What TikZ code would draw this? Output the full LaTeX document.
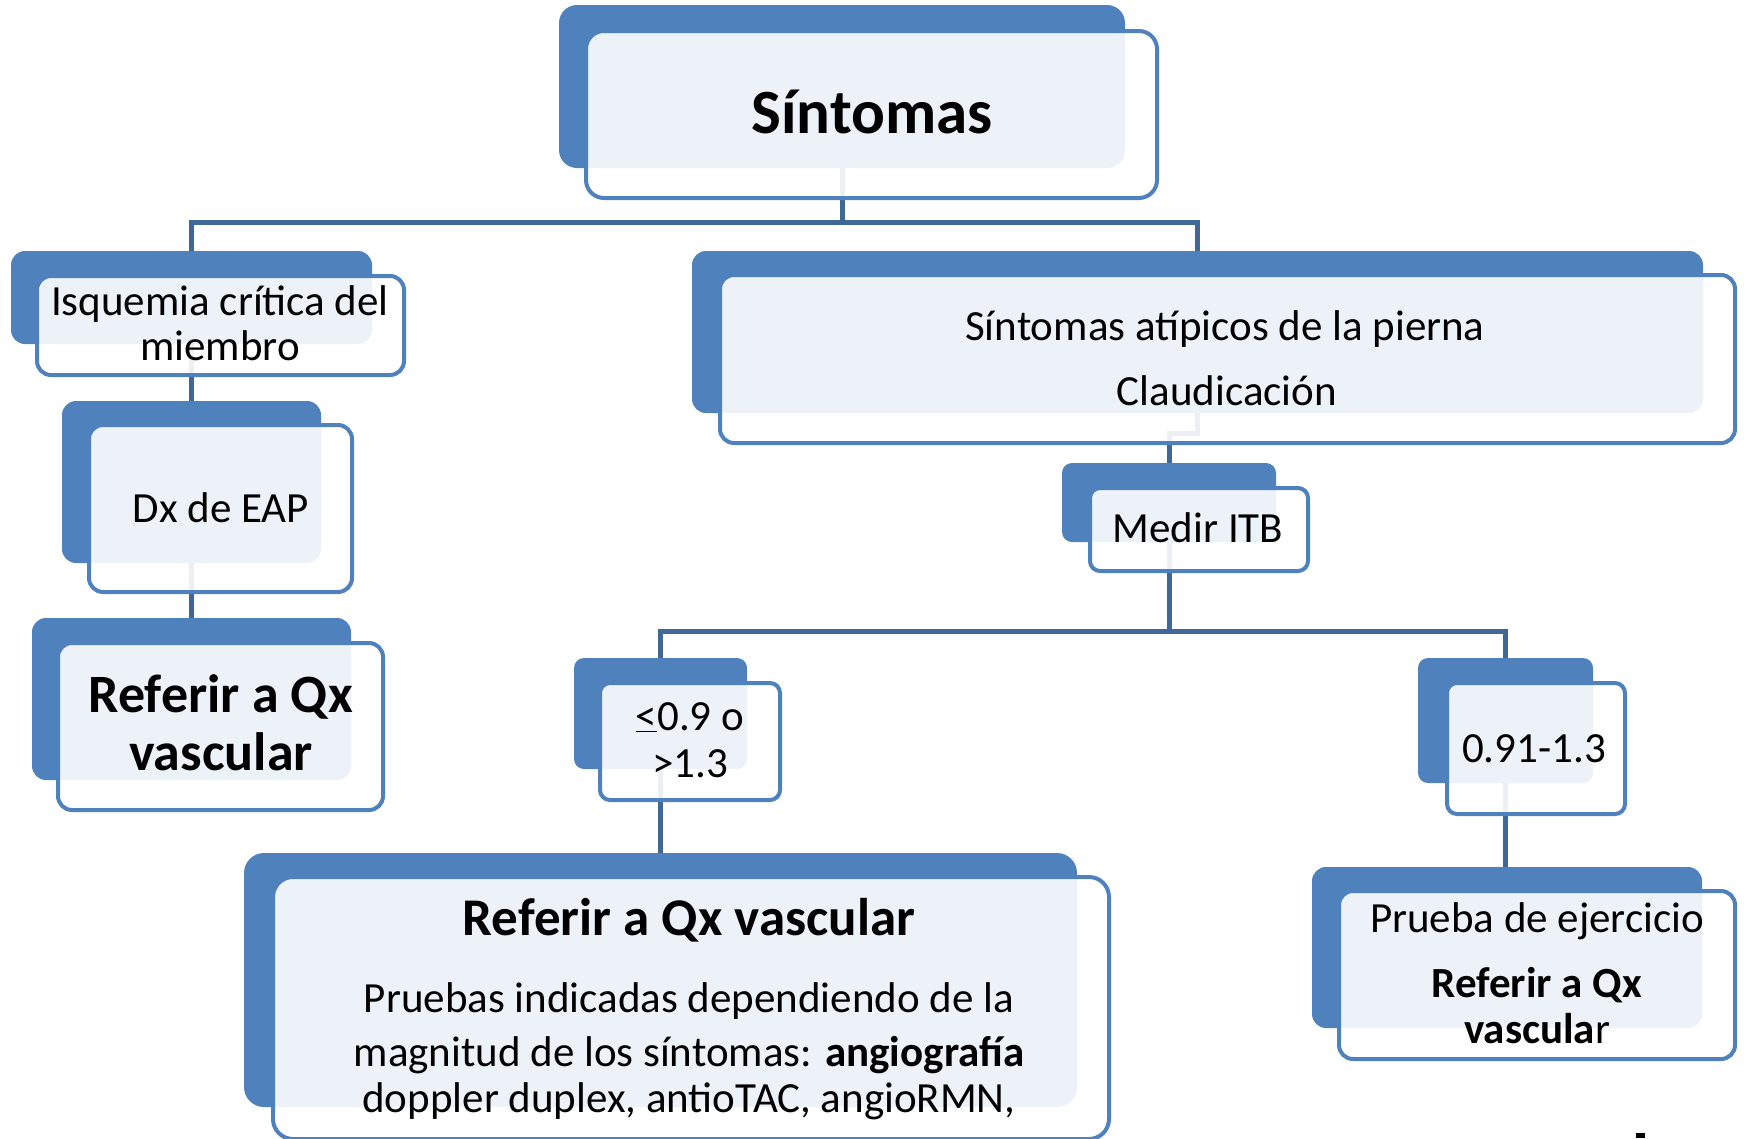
\documentclass[tikz,border=0pt]{standalone}
\usepackage{fontspec}
\setmainfont{Carlito}
\definecolor{accent}{HTML}{4F81BD}
\definecolor{connc}{HTML}{3F6897}
\tikzset{
  backbox/.style={fill=accent, draw=none, inner sep=0pt, outer sep=0pt, rounded corners=14pt},
  frontbox/.style={fill=white, fill opacity=0.9, draw=accent, draw opacity=1, line width=4pt, inner sep=0pt, outer sep=0pt, rounded corners=14pt},
  conn/.style={draw=connc, line width=5pt},
  txt/.style={anchor=base, inner sep=0pt, text=black},
  fn/.style={font=\fontsize{43}{52}\selectfont},
  fnb/.style={font=\fontsize{43}{52}\selectfont\bfseries},
}
\begin{document}
\begin{tikzpicture}[x=1pt,y=-1pt]
\useasboundingbox (0,0) rectangle (1760,1138);
% back rectangles
\node[backbox, rounded corners=18pt, minimum width=566pt, minimum height=163pt] (sB) at (842,86.5) {};
\node[backbox, minimum width=361pt, minimum height=93pt] (iB) at (191.5,297.5) {};
\node[backbox, minimum width=259pt, minimum height=162pt] (dB) at (191.5,482) {};
\node[backbox, minimum width=319pt, minimum height=162pt] (rB) at (191.5,699) {};
\node[backbox, minimum width=1011pt, minimum height=162pt] (aB) at (1197.5,332) {};
\node[backbox, rounded corners=10pt, minimum width=214pt, minimum height=79pt] (mB) at (1169,502.5) {};
\node[backbox, rounded corners=10pt, minimum width=173pt, minimum height=111pt] (lB) at (660.5,713.5) {};
\node[backbox, rounded corners=10pt, minimum width=175pt, minimum height=125pt] (nB) at (1505.5,720.5) {};
\node[backbox, rounded corners=20pt, minimum width=833pt, minimum height=254pt] (bB) at (660.5,980) {};
\node[backbox, minimum width=390pt, minimum height=161pt] (pB) at (1507,947.5) {};
% connectors
\coordinate (j1) at (842,222);
\coordinate (j2) at (1169,631);
\draw[conn] (sB.south) -- (j1);
\draw[conn] (iB.north) |- (j1) -| (aB.north);
\draw[conn] (iB.south) -- (dB.north);
\draw[conn] (dB.south) -- (rB.north);
\draw[conn] (aB.south) -- ++(0,20) -| (mB.north);
\draw[conn] (mB.south) -- (j2);
\draw[conn] (lB.north) |- (j2) -| (nB.north);
\draw[conn] (lB.south) -- (bB.north);
\draw[conn] (nB.south) -- (nB.south |- pB.north);
% front boxes
\node[frontbox, rounded corners=18pt, minimum width=571pt, minimum height=167pt] (sF) at (871.5,114.5) {};
\node[frontbox, minimum width=367pt, minimum height=99pt] (iF) at (220.5,325.5) {};
\node[frontbox, minimum width=263pt, minimum height=167pt] (dF) at (220.5,508.5) {};
\node[frontbox, minimum width=325pt, minimum height=167pt] (rF) at (220.5,726.5) {};
\node[frontbox, minimum width=1015pt, minimum height=168pt] (aF) at (1227.5,359) {};
\node[frontbox, rounded corners=10pt, minimum width=218pt, minimum height=83pt] (mF) at (1199,529.5) {};
\node[frontbox, rounded corners=10pt, minimum width=180pt, minimum height=117pt] (lF) at (690,741.5) {};
\node[frontbox, rounded corners=10pt, minimum width=178pt, minimum height=131pt] (nF) at (1536,748.5) {};
\node[frontbox, rounded corners=20pt, minimum width=836pt, minimum height=262pt] (bF) at (691,1008) {};
\node[frontbox, minimum width=396pt, minimum height=168pt] (pF) at (1537,975) {};
% texts
\node[txt, font=\fontsize{63}{70}\selectfont\bfseries] (t1) at (872,133) {Síntomas};
\node[txt, fn] (t2a) at (220,315) {Isquemia crítica del};
\node[txt, fn] (t2b) at (220,360) {miembro};
\node[txt, fn] (t3) at (221,522) {Dx de EAP};
\node[txt, font=\fontsize{54}{62}\selectfont\bfseries] (t4a) at (221,712) {Referir a Qx};
\node[txt, font=\fontsize{54}{62}\selectfont\bfseries] (t4b) at (221,770) {vascular};
\node[txt, fn] (t5a) at (1225,340) {Síntomas atípicos de la pierna};
\node[txt, fn] (t5b) at (1227,405) {Claudicación};
\node[txt, fn] (t6) at (1198,542) {Medir ITB};
\node[txt, fn] (t7a) at (690,730) {\underline{<}0.9 o};
\node[txt, fn] (t7b) at (690,777) {>1.3};
\node[txt, fn] (t8) at (1534,762) {0.91-1.3};
\node[txt, font=\fontsize{53}{60}\selectfont\bfseries] (t9) at (689,935) {Referir a Qx vascular};
\node[txt, fn] (t9a) at (689,1012) {Pruebas indicadas dependiendo de la};
\node[txt, fn] (t9b) at (689,1066) {magnitud de los síntomas: \textbf{angiografía}};
\node[txt, fn] (t9c) at (689,1112) {doppler duplex, antioTAC, angioRMN,};
\node[txt, fn] (t10a) at (1537,932) {Prueba de ejercicio};
\node[txt, fnb] (t10b) at (1537,997) {Referir a Qx};
\node[txt, fnb] (t10c) at (1537,1043) {vascula\mdseries r};
\fill[black] (1636,1133) rectangle (1645,1138);
\end{tikzpicture}
\end{document}
